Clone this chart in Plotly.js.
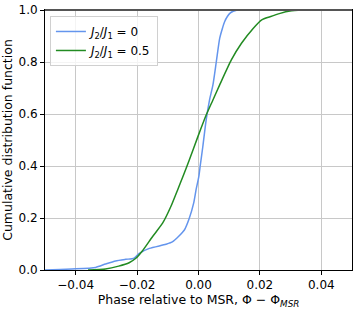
<!DOCTYPE html>
<html><head><meta charset="utf-8">
<script src="https://cdn.plot.ly/plotly-3.0.1.min.js"></script>
<style>html,body{margin:0;padding:0;background:#fff}#plot{width:357px;height:309px}</style>
</head><body><div id="plot"></div>
<script>
// J2/J1 = 0 (blue)
const xBlue = [-0.050, -0.045, -0.0412, -0.0335, -0.0303, -0.027, -0.0237, -0.021, -0.0193, -0.016, -0.0106, -0.0084, -0.0046, -0.003, -0.0016, -0.0008, 0.0001, 0.0006, 0.0014, 0.0025, 0.0036, 0.0047, 0.0058, 0.0069, 0.0078, 0.0085, 0.0094, 0.0102, 0.0113, 0.0124, 0.0137];
const yBlue = [0, 0.002, 0.004, 0.010, 0.023, 0.035, 0.041, 0.045, 0.064, 0.083, 0.099, 0.109, 0.154, 0.199, 0.256, 0.308, 0.359, 0.404, 0.474, 0.577, 0.654, 0.712, 0.801, 0.891, 0.93, 0.955, 0.975, 0.987, 0.995, 0.999, 1.0];
// J2/J1 = 0.5 (green)
const xGreen = [-0.036, -0.0303, -0.026, -0.0226, -0.0204, -0.0183, -0.015, -0.0117, -0.009, -0.0068, -0.0051, -0.003, -0.0002, 0.0025, 0.0047, 0.0069, 0.0107, 0.014, 0.0178, 0.0206, 0.0233, 0.0266, 0.0298, 0.034];
const yGreen = [0, 0.004, 0.015, 0.028, 0.045, 0.073, 0.128, 0.18, 0.244, 0.308, 0.359, 0.423, 0.513, 0.596, 0.654, 0.712, 0.808, 0.872, 0.929, 0.962, 0.974, 0.987, 0.996, 1.0];
const seriesNames = ['<i>J</i><sub>2</sub>/<i>J</i><sub>1</sub> = 0', '<i>J</i><sub>2</sub>/<i>J</i><sub>1</sub> = 0.5'];
const xTickVals = [-0.04, -0.02, 0, 0.02, 0.04];
const xTickText = ['\u22120.04', '\u22120.02', '0.00', '0.02', '0.04'];
const yTickVals = [0, 0.2, 0.4, 0.6, 0.8, 1.0];
const yTickText = ['0.0', '0.2', '0.4', '0.6', '0.8', '1.0'];

const font = 'DejaVu Sans, sans-serif';
const traces = [
  {x: xBlue, y: yBlue, mode: 'lines', name: seriesNames[0], line: {color: '#6495ED', width: 1.5, shape: 'spline', smoothing: 0.6}},
  {x: xGreen, y: yGreen, mode: 'lines', name: seriesNames[1], line: {color: '#228B22', width: 1.5, shape: 'spline', smoothing: 0.6}}
];
const layout = {
  width: 357, height: 309,
  margin: {l: 45, r: 5, t: 10, b: 39},
  paper_bgcolor: '#fff', plot_bgcolor: '#fff',
  font: {family: font, size: 11.5, color: '#000'},
  showlegend: true,
  legend: {x: 0.016, y: 0.977, xanchor: 'left', yanchor: 'top', bgcolor: 'rgba(255,255,255,0.8)', bordercolor: '#d0d0d0', borderwidth: 1, font: {family: font, size: 12}, tracegroupgap: 0},
  xaxis: {
    range: [-0.05, 0.05], tickvals: xTickVals, ticktext: xTickText,
    showgrid: true, gridcolor: '#c8c8c8', gridwidth: 1, zeroline: false,
    showline: true, linecolor: '#000', linewidth: 1, mirror: true,
    ticks: 'outside', ticklen: 4, tickcolor: '#000', tickfont: {family: font, size: 12},
    title: {text: 'Phase relative to MSR, \u03A6 \u2212 \u03A6<sub><i>MSR</i></sub>', font: {family: font, size: 12.5}, standoff: 4}
  },
  yaxis: {
    range: [0, 1], tickvals: yTickVals, ticktext: yTickText,
    showgrid: true, gridcolor: '#c8c8c8', gridwidth: 1, zeroline: false,
    showline: true, linecolor: '#000', linewidth: 1, mirror: true,
    ticks: 'outside', ticklen: 4, tickcolor: '#000', tickfont: {family: font, size: 12},
    title: {text: 'Cumulative distribution function', font: {family: font, size: 12.5}, standoff: 6}
  },
  shapes: [
    {type: 'line', xref: 'paper', yref: 'paper', x0: 0, x1: 1, y0: 1, y1: 1, line: {color: '#555', width: 2}}
  ]
};
Plotly.newPlot('plot', traces, layout, {displayModeBar: false, staticPlot: true});
</script></body></html>
